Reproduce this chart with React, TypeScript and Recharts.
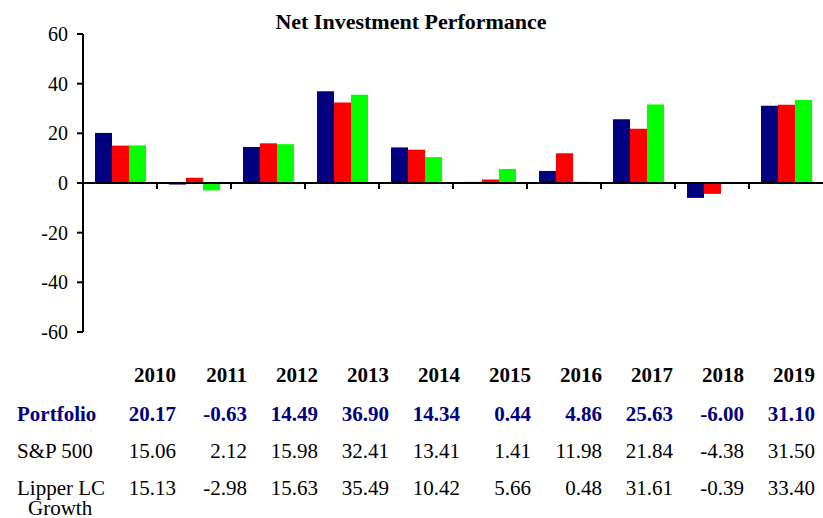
import React from 'react'
import { Bar, BarChart, ReferenceLine, XAxis, YAxis } from 'recharts'

// categories and the three return series (percent)
const years = ['2010', '2011', '2012', '2013', '2014', '2015', '2016', '2017', '2018', '2019']
const portfolio = [20.17, -0.63, 14.49, 36.9, 14.34, 0.44, 4.86, 25.63, -6.0, 31.1]
const sp500 = [15.06, 2.12, 15.98, 32.41, 13.41, 1.41, 11.98, 21.84, -4.38, 31.5]
const lipper = [15.13, -2.98, 15.63, 35.49, 10.42, 5.66, 0.48, 31.61, -0.39, 33.4]
const yTicks = [-60, -40, -20, 0, 20, 40, 60]
// category boundaries where the small tick marks sit on the zero line
const boundaries = [1, 2, 3, 4, 5, 6, 7, 8, 9]

const serif = '"Liberation Serif", "Times New Roman", serif'

const data = years.map((year, i) => ({
  year,
  pos: i + 0.5,
  portfolio: portfolio[i],
  sp500: sp500[i],
  lipper: lipper[i],
}))

// data table under the chart
const rows = [
  { label: 'Portfolio', values: portfolio, color: '#000080', bold: true, y: 421 },
  { label: 'S&P 500', values: sp500, color: '#000000', bold: false, y: 458 },
  { label: 'Lipper LC', values: lipper, color: '#000000', bold: false, y: 495 },
]

const App = () => {
  return (
    <div style={{ position: 'absolute', left: 0, top: 0, width: 823, height: 518, background: '#fff' }}>
      <BarChart
        width={823}
        height={518}
        data={data}
        margin={{ top: 34, right: 0, left: 0, bottom: 186 }}
        barGap={0}
        barCategoryGap={12}
      >
        <XAxis dataKey="year" hide />
        <XAxis xAxisId="edge" dataKey="pos" type="number" domain={[0, 10]} hide />
        <YAxis
          width={83}
          domain={[-60, 60]}
          ticks={yTicks}
          interval={0}
          axisLine={{ stroke: '#000', strokeWidth: 2 }}
          tickLine={{ stroke: '#000', strokeWidth: 2 }}
          tickSize={6}
          tickMargin={9}
          tick={{ fill: '#000', fontSize: 20, fontFamily: serif }}
        />
        <Bar dataKey="portfolio" fill="#000080" isAnimationActive={false} />
        <Bar dataKey="sp500" fill="#FF0000" isAnimationActive={false} />
        <Bar dataKey="lipper" fill="#00FF00" isAnimationActive={false} />
        <ReferenceLine y={0} stroke="#000" strokeWidth={2} />
        {boundaries.map(b => (
          <ReferenceLine
            key={b}
            xAxisId="edge"
            segment={[{ x: b, y: 0 }, { x: b, y: -2.4 }]}
            stroke="#000"
            strokeWidth={2}
          />
        ))}
      </BarChart>
      <svg
        width={823}
        height={518}
        style={{ position: 'absolute', left: 0, top: 0, pointerEvents: 'none' }}
        fontFamily={serif}
      >
        <text x={411} y={29} textAnchor="middle" fontSize={22} fontWeight="bold" fill="#000">
          Net Investment Performance
        </text>
        {years.map((y, i) => (
          <text key={y} x={176 + i * 71} y={382} textAnchor="end" fontSize={21} fontWeight="bold" fill="#000">
            {y}
          </text>
        ))}
        {rows.map(r => (
          <g key={r.label} fill={r.color} fontWeight={r.bold ? 'bold' : 'normal'} fontSize={21}>
            <text x={17} y={r.y}>{r.label}</text>
            {r.values.map((v, i) => (
              <text key={i} x={176 + i * 71} y={r.y} textAnchor="end">
                {v.toFixed(2)}
              </text>
            ))}
          </g>
        ))}
        <text x={28} y={515} fontSize={21} fill="#000">Growth</text>
      </svg>
    </div>
  )
}

export default App
